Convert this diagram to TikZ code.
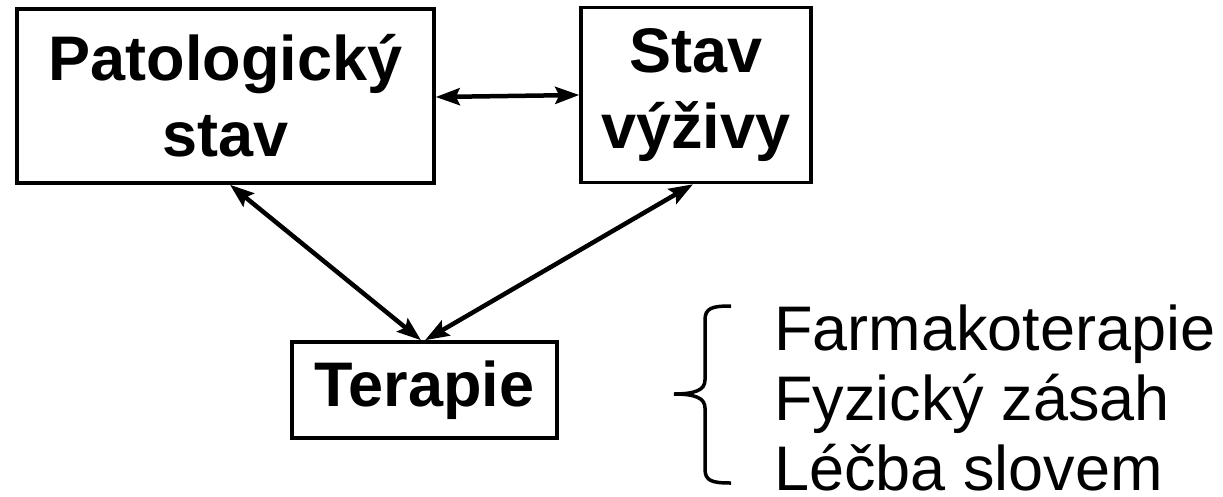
\documentclass[tikz,border=0pt]{standalone}
\usepackage{fontspec}
\setmainfont{Liberation Sans}
\usetikzlibrary{arrows.meta}
\tikzset{
  box/.style={draw, line width=3.5pt, inner sep=0pt, align=center,
    font=\fontsize{63}{76}\selectfont\bfseries},
  link/.style={line width=4.5pt, {Stealth[length=24pt,width=17pt,inset=4pt]}-{Stealth[length=24pt,width=17pt,inset=4pt]}},
  item/.style={anchor=base west, inner sep=0pt, font=\fontsize{63}{70}\selectfont}
}
\begin{document}
\begin{tikzpicture}[x=1pt,y=-1pt]
  \useasboundingbox (0,0) rectangle (1223,496);
  \node[box, minimum width=417pt, minimum height=174pt] (pat) at (225.5,96) {Patologický\\stav};
  \node[box, minimum width=230pt, minimum height=175pt] (vyz) at (696,95) {Stav\\výživy};
  \node[box, minimum width=265pt, minimum height=96pt] (ter) at (424.5,390) {Terapie};
  \draw[link] (pat.east |- 0,97) -- (vyz.west |- 0,95);
  \draw[link] (pat.south -| 230,0) -- (ter.north -| 421,0);
  \draw[link] (vyz.south -| 693,0) -- (ter.north -| 425,0);
  % brace grouping the three kinds of therapy
  \coordinate (bt) at (731,306);
  \coordinate (bb) at (731,483);
  \draw[line width=3.5pt] (bt) .. controls (712,306) and (705,308) .. (705,320)
    -- (705,380) .. controls (705,390) and (695,394) .. (674,394)
    .. controls (695,394) and (705,398) .. (705,408)
    -- (705,469) .. controls (705,481) and (712,483) .. (bb);
  \node[item] (f1) at (774,350) {Farmakoterapie};
  \node[item] (f2) at (774,420) {Fyzický zásah};
  \node[item] (f3) at (774,490) {Léčba slovem};
\end{tikzpicture}
\end{document}
